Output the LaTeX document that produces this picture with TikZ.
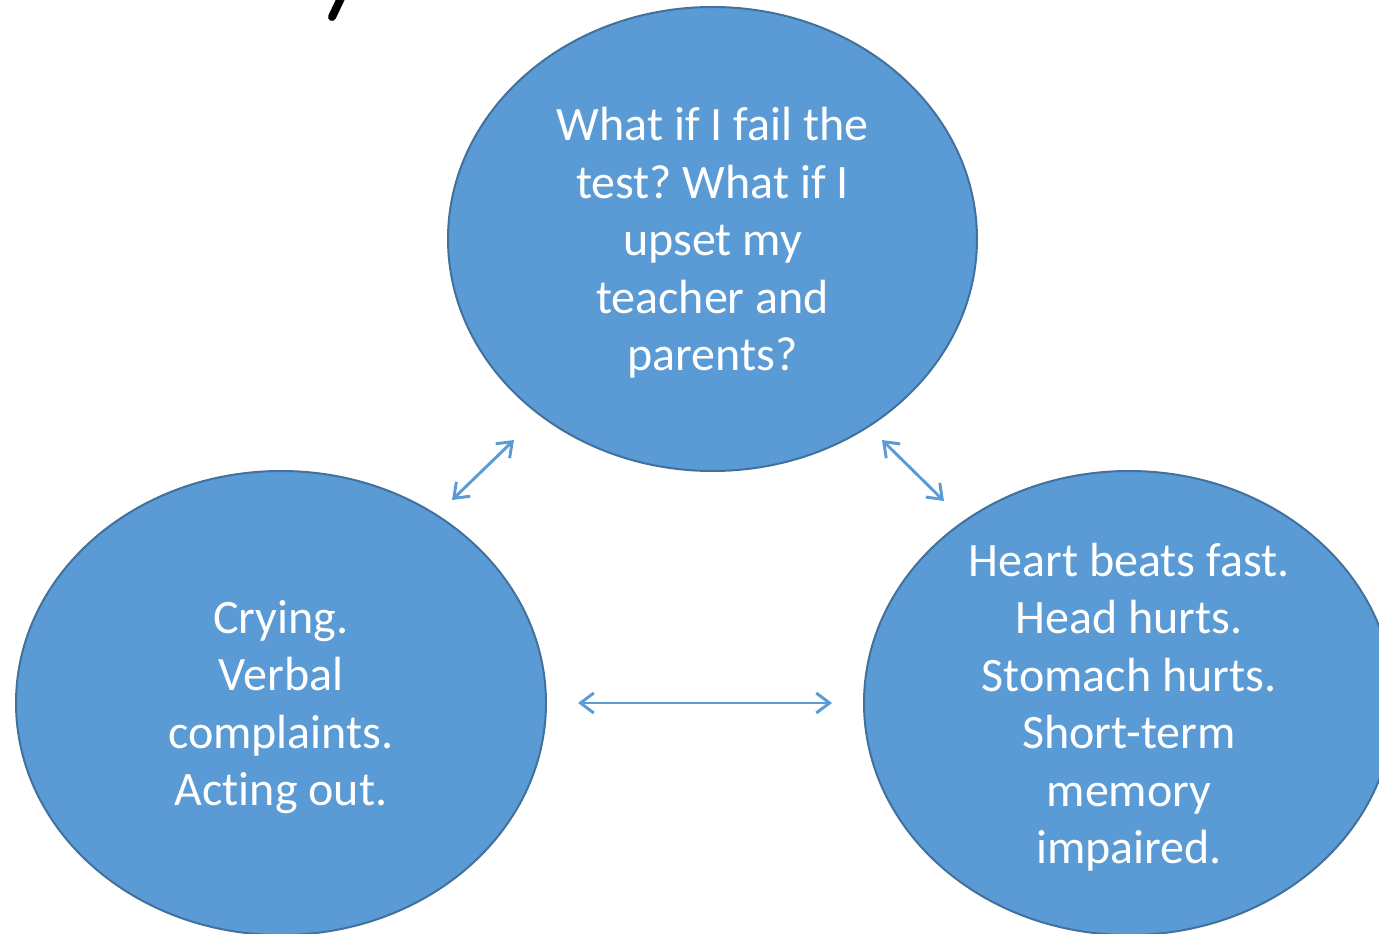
\documentclass[tikz,border=0pt]{standalone}
\usepackage{fontspec}
\setmainfont{Carlito}[Ligatures={NoCommon}]
\usetikzlibrary{arrows.meta}
\definecolor{bubblefill}{HTML}{5B9BD5}
\definecolor{bubbleline}{HTML}{41719C}
\definecolor{arrowblue}{HTML}{5B9BD5}
\frenchspacing
\begin{document}
\begin{tikzpicture}[x=0.75pt,y=-0.75pt,
  btext/.style={text=white, align=center, font=\fontsize{36}{43.1}\selectfont},
  dbl/.style={draw=arrowblue, line width=2.2pt,
    {Straight Barb[length=10pt,width=15pt,line width=2.2pt]}-{Straight Barb[length=10pt,width=15pt,line width=2.2pt]}}]
\useasboundingbox (0,0) rectangle (1379,934);
\begin{scope}
\clip (0,0) rectangle (1379,934);
\fill[bubblefill, draw=bubbleline, line width=1.5pt] (712.5,239) ellipse [x radius=264.5, y radius=232];
\fill[bubblefill, draw=bubbleline, line width=1.5pt] (281,703) ellipse [x radius=265, y radius=232];
\fill[bubblefill, draw=bubbleline, line width=1.5pt] (1129,703) ellipse [x radius=265, y radius=232];
\draw[black, line width=6pt, line cap=round] (343,-6) -- (332,17);
\end{scope}
\node[btext] (top) at (712.5,243) {What if I fail the\\test? What if I\\upset my\\teacher and\\parents?};
\node[btext] (left) at (281,707) {Crying.\\Verbal\\complaints.\\Acting out.};
\node[btext] (right) at (1129,707) {Heart beats fast.\\Head hurts.\\Stomach hurts.\\Short-term\\memory\\impaired.};
\coordinate (a1) at (452,500);
\coordinate (a2) at (514,440);
\coordinate (b1) at (882,440);
\coordinate (b2) at (944,501);
\coordinate (c1) at (578,703);
\coordinate (c2) at (832,703);
\draw[dbl] (a1) -- (a2);
\draw[dbl] (b1) -- (b2);
\draw[dbl] (c1) -- (c2);
\end{tikzpicture}
\end{document}
